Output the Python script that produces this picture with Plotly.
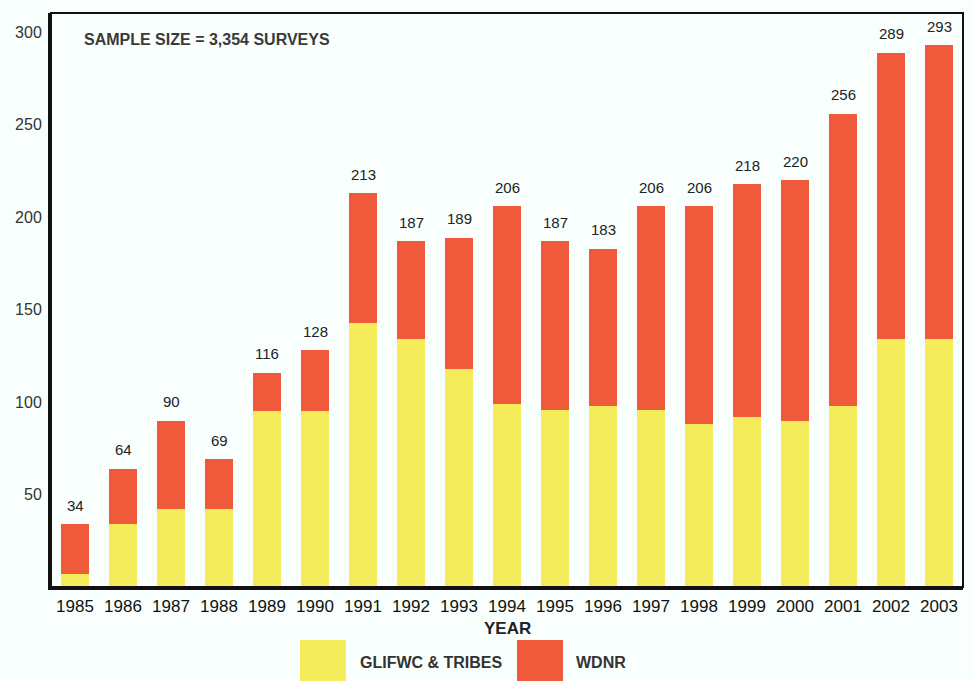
import plotly.graph_objects as go

years = ["1985", "1986", "1987", "1988", "1989", "1990", "1991", "1992", "1993", "1994",
         "1995", "1996", "1997", "1998", "1999", "2000", "2001", "2002", "2003"]
glifwc_tribes = [7, 34, 42, 42, 95, 95, 143, 134, 118, 99, 96, 98, 96, 88, 92, 90, 98, 134, 134]
wdnr = [27, 30, 48, 27, 21, 33, 70, 53, 71, 107, 91, 85, 110, 118, 126, 130, 158, 155, 159]
totals = [g + w for g, w in zip(glifwc_tribes, wdnr)]
y_ticks = [50, 100, 150, 200, 250, 300]

YELLOW = "#F5EC5C"
RED = "#EF5A3B"
BG = "#F8FFFD"
FONT = "Liberation Sans, Arial, sans-serif"

fig = go.Figure()
fig.add_trace(go.Bar(x=years, y=glifwc_tribes, name="GLIFWC & TRIBES",
                     marker=dict(color=YELLOW, line=dict(width=0))))
fig.add_trace(go.Bar(x=years, y=wdnr, name="WDNR",
                     marker=dict(color=RED, line=dict(width=0))))

# total labels above each stacked bar (x given as category index)
for i, t in enumerate(totals):
    fig.add_annotation(x=i, y=t, text=str(t), showarrow=False, yshift=19,
                       yanchor="middle", font=dict(family=FONT, size=15, color="#222"))

fig.add_annotation(xref="paper", yref="paper", x=0.034, y=0.954, xanchor="left",
                   yanchor="middle", showarrow=False,
                   text="<b>SAMPLE SIZE = 3,354 SURVEYS</b>",
                   font=dict(family=FONT, size=16, color="#3a3a3a"))

# axis title
fig.add_annotation(xref="paper", yref="paper", x=0.5, y=(587 - 628) / 574,
                   xanchor="center", yanchor="middle", showarrow=False,
                   text="<b>YEAR</b>", font=dict(family=FONT, size=17, color="#222"))

# legend swatches and labels below the chart
legend_items = [("GLIFWC & TRIBES", YELLOW, 300, 358), ("WDNR", RED, 517, 574)]
for label, color, sx, tx in legend_items:
    x0 = (sx - 51) / 912
    x1 = (sx + 46 - 51) / 912
    fig.add_shape(type="rect", xref="paper", yref="paper", x0=x0, x1=x1,
                  y0=(587 - 700) / 574, y1=(587 - 640) / 574,
                  fillcolor=color, line=dict(width=0), layer="above")
    fig.add_annotation(xref="paper", yref="paper", x=(tx - 51) / 912,
                       y=(587 - 662) / 574, xanchor="left", yanchor="middle",
                       showarrow=False, text="<b>" + label + "</b>",
                       font=dict(family=FONT, size=16, color="#333"))

# thin frame on top and right
fig.add_shape(type="rect", xref="paper", yref="paper", x0=0, x1=1, y0=0, y1=1,
              line=dict(color="#111", width=2), layer="above")

fig.update_layout(
    barmode="stack",
    bargap=0.43,
    width=974, height=681,
    margin=dict(l=51, r=11, t=13, b=94),
    paper_bgcolor=BG, plot_bgcolor=BG,
    showlegend=False,
    font=dict(family=FONT, color="#222"),
    xaxis=dict(type="category", range=[-0.5, 18.5], showgrid=False, ticks="",
               zeroline=False, showline=True, linecolor="#111", linewidth=3,
               tickfont=dict(family=FONT, size=17, color="#111"), ticklabelstandoff=2),
    yaxis=dict(range=[0, 310.5], showgrid=False, ticks="", zeroline=False,
               tickvals=y_ticks, showline=True, linecolor="#111", linewidth=3,
               tickfont=dict(family=FONT, size=16, color="#333"), ticklabelstandoff=3),
)

fig.write_html("out.html")
